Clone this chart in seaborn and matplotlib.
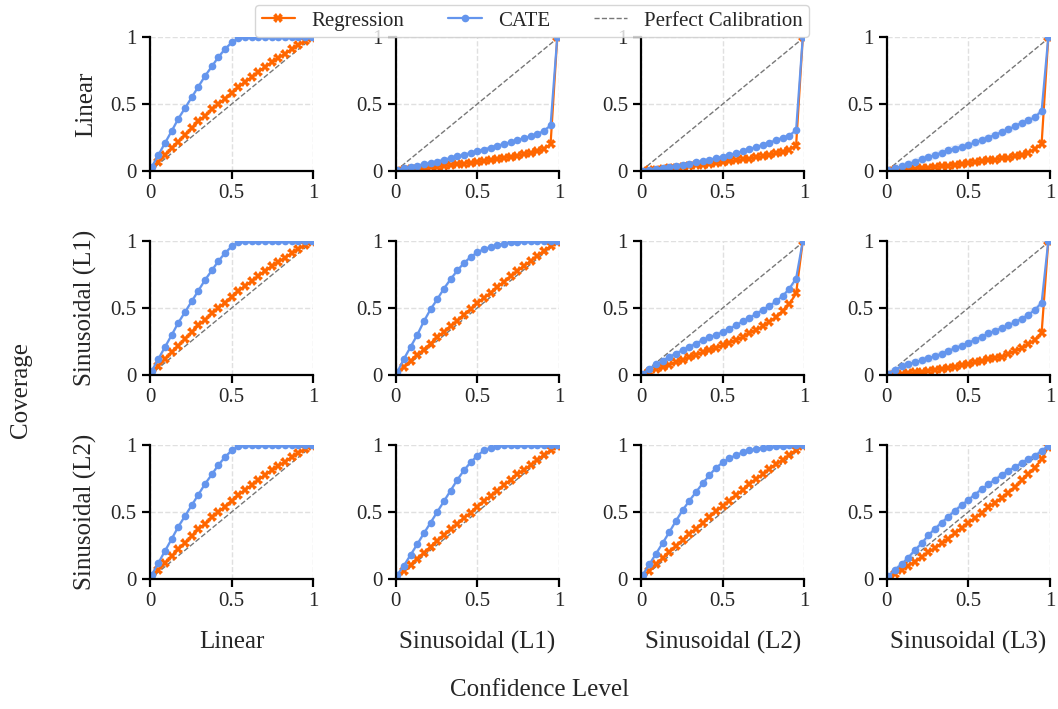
import matplotlib
matplotlib.use('Agg')
import matplotlib.pyplot as plt
import numpy as np
import pandas as pd
import seaborn as sns

# confidence levels on the x axis (shared by every panel)
levels = [0.010, 0.051, 0.092, 0.133, 0.173, 0.214, 0.255, 0.296, 0.337, 0.378,
          0.418, 0.459, 0.500, 0.541, 0.582, 0.623, 0.663, 0.704, 0.745, 0.786,
          0.827, 0.868, 0.908, 0.949, 0.990]

row_names = ['Linear', 'Sinusoidal (L1)', 'Sinusoidal (L2)']
col_names = ['Linear', 'Sinusoidal (L1)', 'Sinusoidal (L2)', 'Sinusoidal (L3)']

# coverage, row r / column c
reg_r1c1 = [0.015, 0.07, 0.12, 0.17, 0.22, 0.27, 0.32, 0.37, 0.41, 0.46, 0.50, 0.54, 0.585,
            0.625, 0.665, 0.70, 0.74, 0.775, 0.81, 0.845, 0.875, 0.91, 0.94, 0.97, 0.995]
cate_r1c1 = [0.03, 0.12, 0.21, 0.30, 0.39, 0.47, 0.55, 0.63, 0.71, 0.78, 0.85, 0.91, 0.96,
             0.99, 1.0, 1.0, 1.0, 1.0, 1.0, 1.0, 1.0, 1.0, 1.0, 1.0, 1.0]
reg_r1c2 = [0.002, 0.008, 0.012, 0.017, 0.022, 0.027, 0.032, 0.038, 0.044, 0.05, 0.056, 0.062,
            0.068, 0.075, 0.082, 0.09, 0.098, 0.106, 0.115, 0.125, 0.135, 0.148, 0.165, 0.20, 1.0]
cate_r1c2 = [0.005, 0.02, 0.03, 0.04, 0.05, 0.06, 0.07, 0.085, 0.095, 0.11, 0.12, 0.135, 0.15,
             0.16, 0.175, 0.19, 0.20, 0.215, 0.23, 0.245, 0.26, 0.275, 0.30, 0.34, 1.0]
reg_r1c3 = [0.002, 0.006, 0.01, 0.015, 0.02, 0.025, 0.031, 0.037, 0.043, 0.048, 0.054, 0.061,
            0.068, 0.074, 0.08, 0.087, 0.093, 0.101, 0.11, 0.12, 0.131, 0.143, 0.16, 0.19, 1.0]
cate_r1c3 = [0.003, 0.01, 0.017, 0.024, 0.031, 0.04, 0.048, 0.056, 0.065, 0.074, 0.084, 0.095,
             0.108, 0.12, 0.133, 0.147, 0.162, 0.178, 0.195, 0.212, 0.23, 0.248, 0.265, 0.305, 1.0]
reg_r1c4 = [0.002, 0.006, 0.01, 0.014, 0.018, 0.022, 0.026, 0.031, 0.036, 0.041, 0.046, 0.053,
            0.06, 0.066, 0.072, 0.079, 0.086, 0.094, 0.10, 0.11, 0.122, 0.138, 0.165, 0.205, 1.0]
cate_r1c4 = [0.005, 0.02, 0.035, 0.052, 0.07, 0.087, 0.103, 0.12, 0.138, 0.156, 0.168, 0.182,
             0.195, 0.213, 0.232, 0.25, 0.27, 0.29, 0.31, 0.335, 0.36, 0.38, 0.40, 0.45, 1.0]

reg_r2c1 = reg_r1c1  # first column looks the same in every row
cate_r2c1 = cate_r1c1
reg_r2c2 = [0.015, 0.06, 0.105, 0.15, 0.19, 0.235, 0.28, 0.32, 0.365, 0.405, 0.45, 0.49, 0.535,
            0.575, 0.615, 0.655, 0.695, 0.735, 0.775, 0.815, 0.85, 0.89, 0.925, 0.96, 0.995]
cate_r2c2 = [0.02, 0.12, 0.21, 0.30, 0.40, 0.49, 0.565, 0.645, 0.715, 0.78, 0.835, 0.88, 0.915,
             0.94, 0.955, 0.97, 0.98, 0.99, 0.995, 1.0, 1.0, 1.0, 1.0, 1.0, 1.0]
reg_r2c3 = [0.005, 0.025, 0.045, 0.06, 0.077, 0.095, 0.113, 0.132, 0.15, 0.168, 0.185, 0.203,
            0.222, 0.24, 0.26, 0.285, 0.31, 0.335, 0.365, 0.395, 0.43, 0.48, 0.53, 0.61, 1.0]
cate_r2c3 = [0.01, 0.045, 0.08, 0.105, 0.135, 0.16, 0.185, 0.21, 0.235, 0.26, 0.28, 0.30, 0.32,
             0.345, 0.37, 0.40, 0.425, 0.455, 0.485, 0.515, 0.55, 0.59, 0.645, 0.72, 1.0]
reg_r2c4 = [0.003, 0.007, 0.011, 0.015, 0.02, 0.025, 0.032, 0.04, 0.047, 0.055, 0.063, 0.072,
            0.082, 0.094, 0.106, 0.118, 0.128, 0.138, 0.155, 0.178, 0.20, 0.228, 0.262, 0.315, 1.0]
cate_r2c4 = [0.01, 0.04, 0.065, 0.08, 0.095, 0.11, 0.125, 0.14, 0.16, 0.18, 0.20, 0.22, 0.24,
             0.262, 0.285, 0.31, 0.33, 0.35, 0.37, 0.395, 0.42, 0.45, 0.485, 0.54, 1.0]

reg_r3c1 = reg_r1c1
cate_r3c1 = cate_r1c1
reg_r3c2 = [0.015, 0.06, 0.105, 0.15, 0.195, 0.24, 0.285, 0.325, 0.37, 0.41, 0.455, 0.495, 0.54,
            0.58, 0.62, 0.66, 0.70, 0.74, 0.78, 0.815, 0.85, 0.89, 0.925, 0.96, 0.995]
cate_r3c2 = [0.03, 0.10, 0.18, 0.26, 0.34, 0.42, 0.50, 0.58, 0.66, 0.74, 0.81, 0.87, 0.92,
             0.96, 0.98, 0.99, 1.0, 1.0, 1.0, 1.0, 1.0, 1.0, 1.0, 1.0, 1.0]
reg_r3c3 = [0.015, 0.06, 0.11, 0.155, 0.20, 0.245, 0.29, 0.335, 0.375, 0.42, 0.46, 0.505, 0.545,
            0.585, 0.625, 0.665, 0.705, 0.745, 0.78, 0.82, 0.855, 0.89, 0.925, 0.96, 0.995]
cate_r3c3 = [0.03, 0.11, 0.19, 0.27, 0.35, 0.435, 0.515, 0.585, 0.65, 0.715, 0.775, 0.83, 0.87,
             0.90, 0.925, 0.945, 0.96, 0.97, 0.98, 0.985, 0.99, 0.995, 1.0, 1.0, 1.0]
reg_r3c4 = [0.005, 0.035, 0.07, 0.10, 0.13, 0.165, 0.20, 0.23, 0.265, 0.30, 0.34, 0.38, 0.42,
            0.455, 0.495, 0.535, 0.57, 0.605, 0.645, 0.685, 0.735, 0.785, 0.83, 0.895, 0.985]
cate_r3c4 = [0.02, 0.07, 0.11, 0.16, 0.215, 0.265, 0.325, 0.375, 0.42, 0.465, 0.51, 0.55, 0.59,
             0.63, 0.67, 0.705, 0.74, 0.775, 0.805, 0.835, 0.865, 0.895, 0.92, 0.955, 0.995]

# half-width of the shaded band around each curve, per panel
cate_band = [[0.012, 0.02, 0.02, 0.03],
             [0.012, 0.012, 0.025, 0.03],
             [0.012, 0.012, 0.012, 0.025]]
reg_band = [[0.006, 0.006, 0.006, 0.006],
            [0.006, 0.006, 0.012, 0.008],
            [0.006, 0.006, 0.006, 0.008]]

reg = [[reg_r1c1, reg_r1c2, reg_r1c3, reg_r1c4],
       [reg_r2c1, reg_r2c2, reg_r2c3, reg_r2c4],
       [reg_r3c1, reg_r3c2, reg_r3c3, reg_r3c4]]
cate = [[cate_r1c1, cate_r1c2, cate_r1c3, cate_r1c4],
        [cate_r2c1, cate_r2c2, cate_r2c3, cate_r2c4],
        [cate_r3c1, cate_r3c2, cate_r3c3, cate_r3c4]]

ORANGE = '#ff6600'
BLUE = '#6495ed'

sns.set_style('ticks')
plt.rcParams['font.family'] = ['Liberation Serif', 'DejaVu Serif']
plt.rcParams['axes.linewidth'] = 1.6

fig, axes = plt.subplots(3, 4, figsize=(10.58, 7.09), dpi=100)
fig.subplots_adjust(left=0.1418, right=0.9924, top=0.9478, bottom=0.1834,
                    wspace=0.503, hspace=0.522)

for i in range(3):
    for j in range(4):
        ax = axes[i, j]
        df = pd.DataFrame({'level': levels, 'reg': reg[i][j], 'cate': cate[i][j]})

        ax.fill_between(df['level'], df['reg'] - reg_band[i][j], df['reg'] + reg_band[i][j],
                        color=ORANGE, alpha=0.15, lw=0)
        ax.fill_between(df['level'], df['cate'] - cate_band[i][j], df['cate'] + cate_band[i][j],
                        color=BLUE, alpha=0.18, lw=0)
        sns.lineplot(data=df, x='level', y='reg', ax=ax, color=ORANGE, lw=1.6,
                     marker='X', markersize=7, markeredgewidth=0, label='Regression')
        sns.lineplot(data=df, x='level', y='cate', ax=ax, color=BLUE, lw=1.6,
                     marker='o', markersize=5.5, markeredgewidth=0, label='CATE')
        ax.axline((0, 0), slope=1, ls='--', color='#777777', lw=1, zorder=1,
                  label='Perfect Calibration')

        ax.set_xlim(0, 1)
        ax.set_ylim(0, 1)
        ax.set_xticks([0, 0.5, 1])
        ax.set_xticklabels(['0', '0.5', '1'])
        ax.set_yticks([0, 0.5, 1])
        ax.set_yticklabels(['0', '0.5', '1'])
        ax.grid(True, ls='--', color='#e0e0e0', lw=1)
        ax.tick_params(labelsize=15, length=6, width=1.6, color='black')
        for s in ['left', 'bottom']:
            ax.spines[s].set_color('black')
        sns.despine(ax=ax)

        ax.set_xlabel(col_names[j] if i == 2 else '', fontsize=18, labelpad=14)
        ax.set_ylabel(row_names[i] if j == 0 else '', fontsize=18, labelpad=10)
        ax.get_legend().remove()

handles, labels = axes[0, 0].get_legend_handles_labels()
fig.legend(handles, labels, loc='upper center', bbox_to_anchor=(0.503, 1.008), ncol=3,
           fontsize=15, frameon=True, fancybox=True, edgecolor='#cccccc',
           columnspacing=2.1, handlelength=1.6, borderpad=0.3)

fig.text(0.51, 0.027, 'Confidence Level', ha='center', va='center', fontsize=18)
fig.text(0.02, 0.45, 'Coverage', ha='center', va='center', rotation=90, fontsize=18)

fig.savefig('out.png', dpi=100)
